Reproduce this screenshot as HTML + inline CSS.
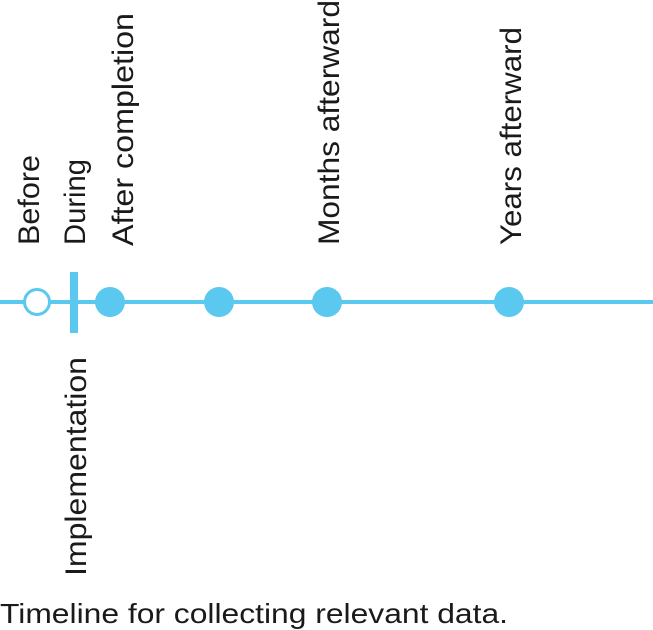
<!DOCTYPE html>
<html><head><meta charset="utf-8"><style>
html,body{margin:0;padding:0;background:#fff;}
svg{display:block;}
text{font-family:"Liberation Sans",sans-serif;fill:#1a1a1a;}
</style></head><body>
<svg width="653" height="630" viewBox="0 0 653 630" xmlns="http://www.w3.org/2000/svg">
<line x1="0" y1="302" x2="653" y2="302" stroke="#5bc8f0" stroke-width="4"/>
<circle cx="37" cy="302" r="12.5" fill="#fff" stroke="#5bc8f0" stroke-width="3"/>
<rect x="70" y="272" width="8" height="61" fill="#5bc8f0"/>
<circle cx="110" cy="302" r="15" fill="#5bc8f0"/>
<circle cx="219" cy="302" r="15" fill="#5bc8f0"/>
<circle cx="327" cy="302" r="15" fill="#5bc8f0"/>
<circle cx="509" cy="302" r="15" fill="#5bc8f0"/>
<g font-size="30">
<text transform="translate(39,245) rotate(-90)" textLength="90" lengthAdjust="spacingAndGlyphs">Before</text>
<text transform="translate(85,245) rotate(-90)" textLength="86" lengthAdjust="spacingAndGlyphs">During</text>
<text transform="translate(133,246) rotate(-90)" textLength="233" lengthAdjust="spacingAndGlyphs">After completion</text>
<text transform="translate(339,245) rotate(-90)" textLength="245" lengthAdjust="spacingAndGlyphs">Months afterward</text>
<text transform="translate(521,245) rotate(-90)" textLength="218" lengthAdjust="spacingAndGlyphs">Years afterward</text>
<text transform="translate(86,576) rotate(-90)" textLength="219" lengthAdjust="spacingAndGlyphs">Implementation</text>
</g>
<text x="0" y="623" font-size="28" textLength="508" lengthAdjust="spacingAndGlyphs">Timeline for collecting relevant data.</text>
</svg>
</body></html>
